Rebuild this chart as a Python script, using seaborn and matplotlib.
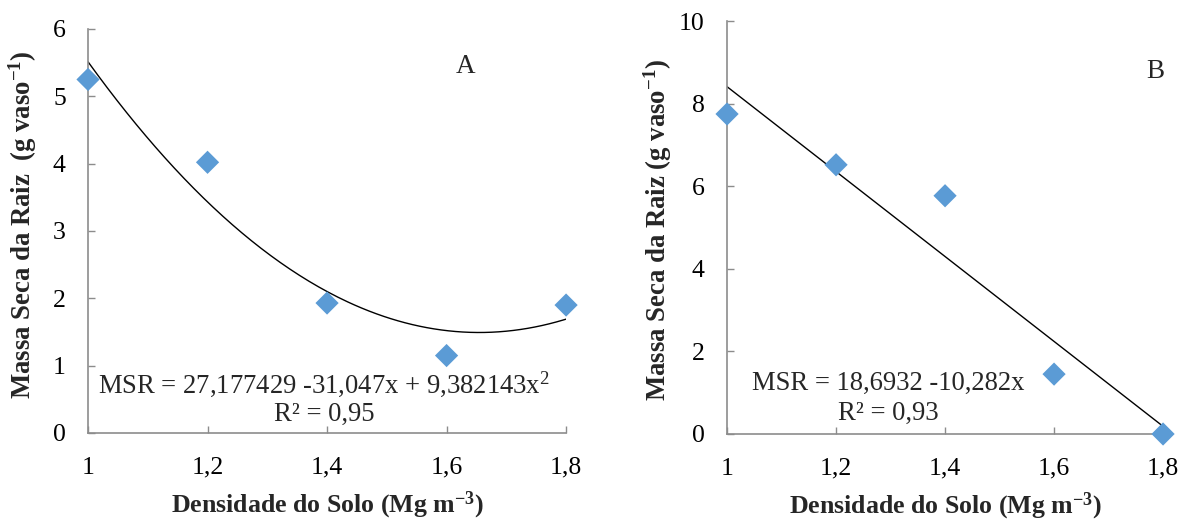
import numpy as np
import pandas as pd
import matplotlib
matplotlib.use("Agg")
import matplotlib.pyplot as plt
import seaborn as sns

# ---- data ----
densidade = [1.0, 1.2, 1.4, 1.6, 1.8]
msr_a = [5.25, 4.02, 1.93, 1.15, 1.90]
msr_b = [7.75, 6.52, 5.77, 1.45, 0.0]
coef_a = [27.177429, -31.047, 9.382143]   # MSR = a + b x + c x^2
coef_b = [18.6932, -10.282]               # MSR = a + b x
xticks = [1.0, 1.2, 1.4, 1.6, 1.8]
xticklabels = ["1", "1,2", "1,4", "1,6", "1,8"]
yticks_a = [0, 1, 2, 3, 4, 5, 6]
yticks_b = [0, 2, 4, 6, 8, 10]
eq_a = r"MSR = 27,177429 -31,047x + 9,382143x$^{2}$"
r2_a = "R² = 0,95"
eq_b = "MSR = 18,6932 -10,282x"
r2_b = "R² = 0,93"

sns.set_theme(style="white")
plt.rcParams["font.family"] = ["Liberation Serif", "DejaVu Serif"]
plt.rcParams["mathtext.fontset"] = "custom"
plt.rcParams["mathtext.rm"] = "Liberation Serif"
plt.rcParams["mathtext.it"] = "Liberation Serif:italic"
plt.rcParams["mathtext.bf"] = "Liberation Serif:bold"
plt.rcParams["mathtext.default"] = "rm"

TICK_FS = 18.5
TXT_FS = 19.2
marker_color = "#5B9BD5"
spine_color = "#8C8C8C"

fig = plt.figure(figsize=(11.88, 5.22), dpi=100)
ax1 = fig.add_axes([0.0741, 0.1705, 0.4024, 0.774])
ax2 = fig.add_axes([0.612, 0.1686, 0.367, 0.791])

xs = np.linspace(1.0, 1.8, 200)
fit_a = pd.DataFrame({"x": xs, "y": coef_a[0] + coef_a[1] * xs + coef_a[2] * xs ** 2})
fit_b = pd.DataFrame({"x": xs, "y": coef_b[0] + coef_b[1] * xs})
df_a = pd.DataFrame({"x": densidade, "y": msr_a})
df_b = pd.DataFrame({"x": densidade, "y": msr_b})

for ax, df, fit, yticks, ylab, ylab_pad, ylab_y in [
    (ax1, df_a, fit_a, yticks_a, r"Massa Seca da Raiz  (g vaso$^{\mathbf{-1}}$)", 10, 0.515),
    (ax2, df_b, fit_b, yticks_b, r"Massa Seca da Raiz (g vaso$^{\mathbf{-1}}$)", 4, 0.495),
]:
    sns.lineplot(data=fit, x="x", y="y", ax=ax, color="black", linewidth=1.0)
    sns.scatterplot(data=df, x="x", y="y", ax=ax, marker="D", s=140,
                    color=marker_color, edgecolor="none", zorder=5, clip_on=False)
    ax.set_xlim(1.0, 1.8)
    ax.set_ylim(yticks[0], yticks[-1])
    ax.set_xticks(xticks)
    ax.set_xticklabels(xticklabels)
    ax.set_yticks(yticks)
    ax.set_yticklabels([str(t) for t in yticks])
    for s in ["top", "right"]:
        ax.spines[s].set_visible(False)
    for s in ["left", "bottom"]:
        ax.spines[s].set_color(spine_color)
        ax.spines[s].set_linewidth(1.2)
    ax.tick_params(axis="x", direction="in", length=5, width=1, color=spine_color,
                   pad=17, labelsize=TICK_FS, labelcolor="black", bottom=True)
    ax.tick_params(axis="y", direction="in", length=5, width=1, color=spine_color,
                   pad=16, labelsize=TICK_FS, labelcolor="black", left=True)
    ax.set_xlabel(r"Densidade do Solo (Mg m$^{\mathbf{-3}}$)", fontsize=18.6,
                  fontweight="bold", labelpad=8)
    ax.set_ylabel(ylab, fontsize=19.3, fontweight="bold", labelpad=ylab_pad)
    ax.yaxis.label.set_y(ylab_y)
    ax.grid(False)

ax1.text(1.631, 5.44, "A", fontsize=19.5, ha="center", va="center")
ax1.text(1.395, 0.72, eq_a, fontsize=TXT_FS, ha="center", va="center")
ax1.text(1.395, 0.27, r2_a, fontsize=TXT_FS, ha="center", va="center")

ax2.text(1.785, 8.77, "B", fontsize=19.5, ha="center", va="center")
ax2.text(1.296, 1.23, eq_b, fontsize=TXT_FS, ha="center", va="center")
ax2.text(1.296, 0.51, r2_b, fontsize=TXT_FS, ha="center", va="center")

fig.savefig("out.png", dpi=100)
